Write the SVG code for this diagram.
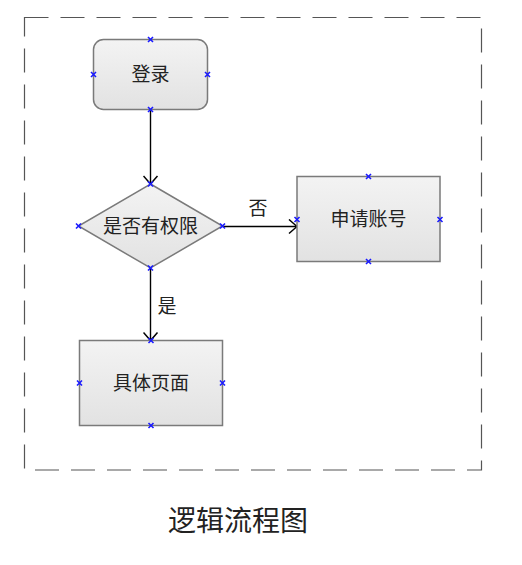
<svg xmlns="http://www.w3.org/2000/svg" width="522" height="565" viewBox="0 0 522 565">
<defs>
<linearGradient id="g" x1="0" y1="0" x2="0" y2="1">
<stop offset="0" stop-color="#f3f3f3"/>
<stop offset="1" stop-color="#e2e2e2"/>
</linearGradient>
<marker id="arr" viewBox="0 0 10 16" refX="9" refY="8" markerWidth="10" markerHeight="16" markerUnits="userSpaceOnUse" orient="auto">
<path d="M1,1 L9,8 L1,15" fill="none" stroke="#000" stroke-width="1.5"/>
</marker>
<path id="x" d="M-2.5,-2.5 L2.5,2.5 M-2.5,2.5 L2.5,-2.5" stroke="#1a1aff" stroke-width="1.6" fill="none"/>
</defs>
<style>
.n{fill:url(#g);stroke:#7a7a7a;stroke-width:1.5}
.t{font-family:"Noto Sans CJK SC","Liberation Sans",sans-serif;font-size:19px;fill:#222;text-anchor:middle}
.e{stroke:#000;stroke-width:1.4;fill:none;marker-end:url(#arr)}
</style>
<rect x="24.5" y="17.5" width="457" height="452.5" fill="none" stroke="#555" stroke-width="1.2" stroke-dasharray="24 12"/>
<g id="connectors">
<line class="e" x1="150.5" y1="110" x2="150.5" y2="184"/>
<line class="e" x1="222.5" y1="226.5" x2="297" y2="226.5"/>
<line class="e" x1="150.5" y1="268" x2="150.5" y2="340.5"/>
<text class="t" x="258" y="215">否</text>
<text class="t" x="167" y="313">是</text>
</g>
<g id="login">
<rect class="n" x="93.5" y="39.5" width="114" height="70" rx="10"/>
<text class="t" x="150.5" y="81">登录</text>
<use href="#x" x="150.5" y="39.5"/><use href="#x" x="93.5" y="74.5"/><use href="#x" x="207.5" y="74.5"/><use href="#x" x="150.5" y="109.5"/>
</g>
<g id="decision">
<polygon class="n" points="150.5,184 222.5,226 150.5,268 78.5,226"/>
<text class="t" x="150.5" y="232.5">是否有权限</text>
<use href="#x" x="150.5" y="184"/><use href="#x" x="78.5" y="226"/><use href="#x" x="222.5" y="226"/><use href="#x" x="150.5" y="268"/>
</g>
<g id="apply">
<rect class="n" x="297" y="176.5" width="143" height="85"/>
<text class="t" x="368.5" y="225.5">申请账号</text>
<use href="#x" x="368.5" y="176.5"/><use href="#x" x="297" y="219.5"/><use href="#x" x="440" y="219.5"/><use href="#x" x="368.5" y="261.5"/>
</g>
<g id="page">
<rect class="n" x="79.5" y="340.5" width="143" height="85"/>
<text class="t" x="151" y="389.5">具体页面</text>
<use href="#x" x="151" y="340.5"/><use href="#x" x="79.5" y="383"/><use href="#x" x="222.5" y="383"/><use href="#x" x="151" y="425.5"/>
</g>
<text x="238" y="531" font-family="Noto Sans CJK SC,sans-serif" font-size="28" fill="#222" text-anchor="middle">逻辑流程图</text>
</svg>
